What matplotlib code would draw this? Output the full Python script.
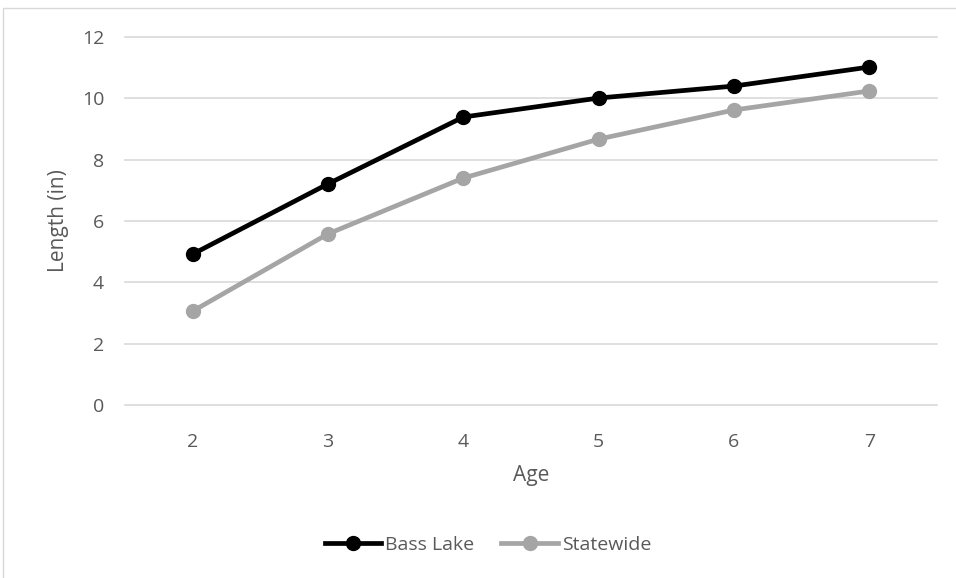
import matplotlib.pyplot as plt
from matplotlib.patches import Rectangle

plt.rcParams['font.family'] = ['Open Sans', 'DejaVu Sans']

ages = ['2', '3', '4', '5', '6', '7']
bass_lake = [4.92, 7.21, 9.39, 10.01, 10.40, 11.02]
statewide = [3.06, 5.58, 7.40, 8.67, 9.62, 10.24]

fig = plt.figure(figsize=(9.56, 5.78), dpi=100)
ax = fig.add_axes([125 / 956, 173 / 578, 812 / 956, 368 / 578])

x = range(len(ages))
ax.plot(x, bass_lake, color='black', lw=3.4, marker='o', ms=10, label='Bass Lake', zorder=3)
ax.plot(x, statewide, color='#a5a5a5', lw=3.4, marker='o', ms=10, label='Statewide', zorder=3)

ax.set_xlim(-0.5, len(ages) - 0.5)
ax.set_ylim(0, 12)
ax.set_yticks(range(0, 13, 2))
ax.set_xticks(list(x))
ax.set_xticklabels(ages)
ax.grid(axis='y', color='#d9d9d9', lw=1.2)
for gl in ax.get_ygridlines():
    gl.set_clip_on(False)
ax.set_axisbelow(True)
for s in ax.spines.values():
    s.set_visible(False)
ax.tick_params(length=0, labelsize=14, colors='#595959')
ax.tick_params(axis='y', pad=15)
ax.tick_params(axis='x', pad=20)
ax.set_xlabel('Age', fontsize=15, color='#595959', labelpad=10)
ax.set_ylabel('Length (in)', fontsize=15, color='#595959', labelpad=9)

ax.legend(loc='center', bbox_to_anchor=(488 / 956, 1 - 545 / 578), bbox_transform=fig.transFigure,
          ncol=2, frameon=False, fontsize=14, handlelength=2.9, columnspacing=1.4,
          handletextpad=0.2, labelcolor='#595959', borderpad=0)

fig.patches.append(Rectangle((3 / 956, -0.1), 1.2, 1 - 8 / 578 + 0.1, transform=fig.transFigure,
                             fill=False, edgecolor='#d9d9d9', lw=1))

fig.savefig('out.png', dpi=100)
